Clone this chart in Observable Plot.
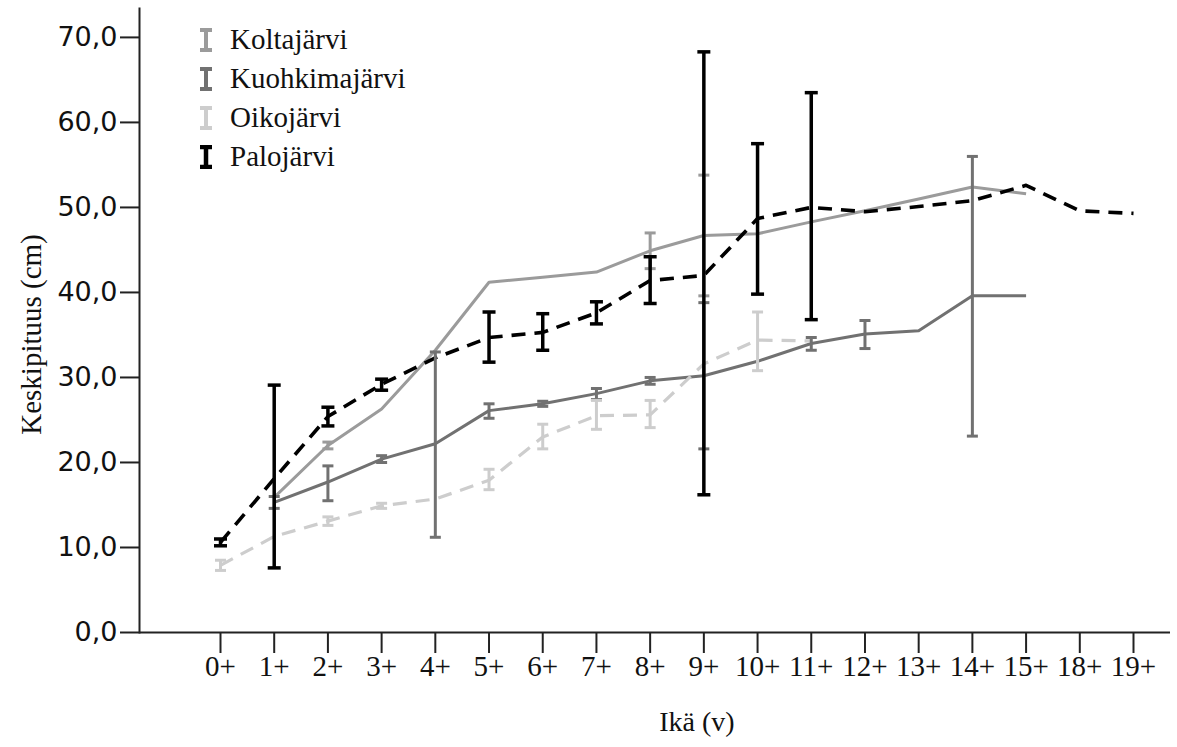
<!DOCTYPE html>
<html>
<head>
<meta charset="utf-8">
<script src="https://cdn.jsdelivr.net/npm/d3@7"></script>
<script src="https://cdn.jsdelivr.net/npm/@observablehq/plot@0.6"></script>
<style>
  body { margin: 0; background: #fff; }
  #wrap { position: relative; width: 1177px; height: 747px; }
  #legend { position: absolute; left: 198px; top: 20px; font-family: "Liberation Serif", "Times New Roman", serif; font-size: 29px; color: #111; }
  #legend .row { display: flex; align-items: center; height: 39px; }
  #legend svg { margin-right: 16px; }
</style>
</head>
<body>
<div id="wrap"><div id="legend"></div></div>
<script>
// Age classes on the x axis
const ages = ["0+","1+","2+","3+","4+","5+","6+","7+","8+","9+","10+","11+","12+","13+","14+","15+","18+","19+"];
const yTicks = [0, 10, 20, 30, 40, 50, 60, 70];

// Mean length (cm) per age class; null = no fish in that class
const koltaMean    = [null, 15.9, 22.0, 26.3, 33.2, 41.2, 41.8, 42.4, 44.9, 46.7, 46.9, 48.3, 49.6, 51.0, 52.4, 51.6, null, null];
const kuohkimaMean = [null, 15.3, 17.7, 20.4, 22.2, 26.1, 26.9, 28.1, 29.6, 30.2, 31.9, 34.0, 35.1, 35.5, 39.6, 39.6, null, null];
const oikoMean     = [7.9, 11.3, 13.1, 14.9, 15.7, 17.9, 23.0, 25.5, 25.6, 31.6, 34.4, 34.3, null, null, null, null, null, null];
const paloMean     = [10.6, 18.1, 25.4, 29.2, 32.3, 34.7, 35.3, 37.6, 41.4, 42.0, 48.7, 50.0, 49.5, 50.1, 50.8, 52.6, 49.6, 49.3];

// Error bar ends (lower, upper); null = no bar drawn
const koltaLo    = [null, null, 21.6, null, null, null, null, null, 42.8, 39.6, null, null, null, null, null, null, null, null];
const koltaHi    = [null, null, 22.4, null, null, null, null, null, 47.0, 53.8, null, null, null, null, null, null, null, null];
const kuohkimaLo = [null, 14.6, 15.5, 20.0, 11.2, 25.2, 26.6, 27.4, 29.2, 21.6, null, 33.2, 33.4, null, 23.1, null, null, null];
const kuohkimaHi = [null, 16.0, 19.6, 20.8, 33.0, 26.9, 27.2, 28.7, 30.0, 38.8, null, 34.7, 36.7, null, 56.0, null, null, null];
const oikoLo     = [7.3, null, 12.6, 14.6, null, 16.8, 21.6, 23.9, 24.1, null, 30.8, null, null, null, null, null, null, null];
const oikoHi     = [8.5, null, 13.6, 15.2, null, 19.2, 24.5, 27.3, 27.3, null, 37.7, null, null, null, null, null, null, null];
const paloLo     = [10.2, 7.6, 24.3, 28.5, null, 31.8, 33.2, 36.3, 38.7, 16.2, 39.8, 36.8, null, null, null, null, null, null];
const paloHi     = [11.0, 29.1, 26.5, 29.8, null, 37.7, 37.5, 38.9, 44.2, 68.3, 57.5, 63.5, null, null, null, null, null, null];

const lakes = ["Koltajärvi", "Kuohkimajärvi", "Oikojärvi", "Palojärvi"];
const lakeColors = ["#9b9b9b", "#717171", "#cdcdcd", "#000000"];
const lakeDash = [null, null, "14,9", "14,9"];
const lakeWidth = [3, 3, 3.2, 3.6];

const series = [
  [koltaMean, koltaLo, koltaHi],
  [kuohkimaMean, kuohkimaLo, kuohkimaHi],
  [oikoMean, oikoLo, oikoHi],
  [paloMean, paloLo, paloHi]
];

// Long table: one row per lake and age class
const rows = [];
series.forEach(([mean, lo, hi], k) => {
  ages.forEach((age, i) => {
    if (mean[i] != null) rows.push({lake: lakes[k], age, mean: mean[i], lo: lo[i], hi: hi[i]});
  });
});

// Horizontal cap used at the ends of each error bar
const cap = {
  draw(context, size) {
    const r = Math.sqrt(size / Math.PI);
    context.moveTo(-r, 0);
    context.lineTo(r, 0);
  }
};

const marks = [];
// Lines first
lakes.forEach((lake, k) => {
  marks.push(Plot.line(rows.filter(d => d.lake === lake), {
    x: "age", y: "mean", stroke: lakeColors[k], strokeWidth: lakeWidth[k],
    strokeDasharray: lakeDash[k], strokeLinecap: "butt", strokeLinejoin: "round"
  }));
});
// Then error bars with caps
lakes.forEach((lake, k) => {
  const bars = rows.filter(d => d.lake === lake && d.lo != null);
  const w = lake === "Palojärvi" ? 3.5 : 3;
  const r = lake === "Palojärvi" ? 6.5 : 5.5;
  marks.push(
    Plot.link(bars, {x1: "age", x2: "age", y1: "lo", y2: "hi", stroke: lakeColors[k], strokeWidth: w}),
    Plot.dot(bars, {x: "age", y: "lo", symbol: cap, r, stroke: lakeColors[k], strokeWidth: w}),
    Plot.dot(bars, {x: "age", y: "hi", symbol: cap, r, stroke: lakeColors[k], strokeWidth: w})
  );
});

const chart = Plot.plot({
  width: 1177,
  height: 747,
  marginLeft: 139,
  marginRight: 7,
  marginTop: 8,
  marginBottom: 115,
  style: {fontFamily: "'Liberation Serif', 'Times New Roman', serif", fontSize: "29px", color: "#111", background: "#fff"},
  x: {type: "point", domain: ages, range: [220, 1133], padding: 0, round: false, label: null},
  y: {domain: [0, 73.4], label: null},
  marks: [
    Plot.axisY({ticks: yTicks, tickFormat: d => d.toFixed(1).replace(".", ","), tickSize: 19, tickPadding: 3,
      fontFamily: "'DejaVu Sans', Verdana, sans-serif", fontSize: 27, strokeWidth: 2, stroke: "#222", label: null}),
    Plot.axisX({tickSize: 21, tickPadding: 2, strokeWidth: 2, stroke: "#222", fontSize: 29, label: null}),
    Plot.ruleY([0], {stroke: "#222", strokeWidth: 2}),
    Plot.frame({anchor: "left", stroke: "#222", strokeWidth: 2}),
    Plot.text(["Keskipituus (cm)"], {frameAnchor: "left", textAnchor: "middle", rotate: -90, dx: -108, dy: 14, fontSize: 29}),
    Plot.text(["Ikä (v)"], {frameAnchor: "bottom", dx: 42, dy: 98, fontSize: 28}),
    ...marks
  ]
});
document.getElementById("wrap").prepend(chart);

// Legend with error-bar glyphs
const legend = document.getElementById("legend");
lakes.forEach((lake, k) => {
  const row = document.createElement("div");
  row.className = "row";
  const sw = lake === "Palojärvi" ? 4.5 : 4;
  row.innerHTML = `<svg width="16" height="24" viewBox="0 0 16 24">
    <path d="M2,2H14M8,2V22M2,22H14" fill="none" stroke="${lakeColors[k]}" stroke-width="${sw}"/></svg><span>${lake}</span>`;
  legend.appendChild(row);
});
</script>
</body>
</html>
